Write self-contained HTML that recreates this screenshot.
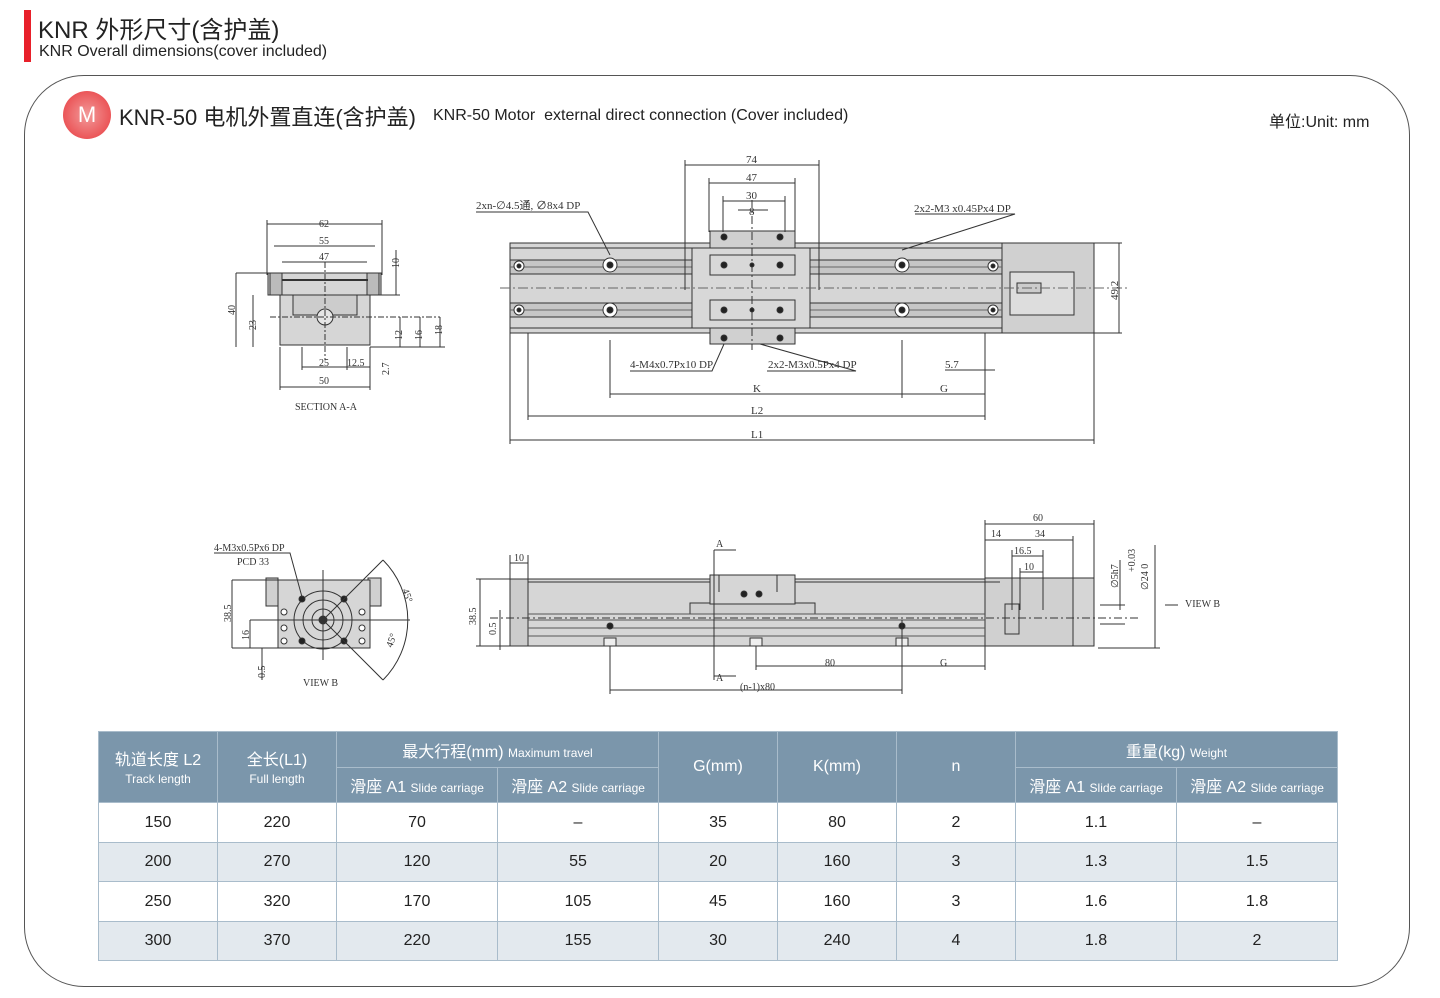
<!DOCTYPE html>
<html><head><meta charset="utf-8"><style>
body{margin:0;background:#fff;width:1440px;height:998px;overflow:hidden;position:relative;font-family:"Liberation Sans","Noto Sans CJK SC",sans-serif;}
.abs{position:absolute}
table{border-collapse:collapse;position:absolute;left:98px;top:731px;}
td{border:1.5px solid #a9bccb;text-align:center;font-size:16px;color:#222;padding:0}
tr.h td{background:#7b96ab;color:#fff}
tr.g td{background:#e3e9ee}
small{font-size:12px}
</style></head><body>
<div class="abs" style="left:24px;top:10px;width:7px;height:52px;background:#e8202a"></div>
<div class="abs" style="left:38px;top:10px;font-size:24px;color:#222;font-family:'Liberation Sans','Noto Sans CJK SC',sans-serif">KNR 外形尺寸(含护盖)</div>
<div class="abs" style="left:39px;top:43px;font-size:16px;color:#222">KNR Overall dimensions(cover included)</div>
<div class="abs" style="left:24px;top:75px;width:1384px;height:910px;border:1.5px solid #555;border-radius:60px"></div>
<div class="abs" style="left:63px;top:91px;width:48px;height:48px;border-radius:50%;background:radial-gradient(circle at 50% 50%,#f29a9a,#e8383c);color:#fff;font-size:22px;text-align:center;line-height:48px">M</div>
<div class="abs" style="left:119px;top:100px;font-size:22px;color:#222">KNR-50 电机外置直连(含护盖)</div>
<div class="abs" style="left:433px;top:107px;font-size:16px;color:#222">KNR-50 Motor&nbsp; external direct connection (Cover included)</div>
<div class="abs" style="left:1269px;top:108px;font-size:16px;color:#222">单位:Unit: mm</div>

<svg class="abs" style="left:0;top:0" width="1440" height="720" font-family="Liberation Serif,serif" font-size="11" fill="none" stroke="#333" stroke-width="1">
<!-- TOP VIEW -->
<g>
<rect x="510" y="243" width="492" height="90" fill="#d6d6d6"/>
<rect x="1002" y="243" width="92" height="90" fill="#d0d0d0"/>
<rect x="1010" y="272" width="64" height="43" fill="#ddd"/>
<rect x="1017" y="283" width="24" height="10" fill="#ccc"/>
<line x1="510" y1="248" x2="1002" y2="248"/><line x1="510" y1="328" x2="1002" y2="328"/>
<rect x="510" y="260" width="492" height="14" fill="#c6c6c6"/>
<rect x="510" y="303" width="492" height="14" fill="#c6c6c6"/>
<line x1="510" y1="267" x2="1002" y2="267" stroke="#666"/><line x1="510" y1="310" x2="1002" y2="310" stroke="#666"/>
<rect x="692" y="248" width="118" height="80" fill="#d8d8d8"/>
<rect x="710" y="231" width="85" height="17" fill="#d0d0d0"/>
<rect x="710" y="328" width="85" height="16" fill="#d0d0d0"/>
<rect x="710" y="255" width="85" height="20" fill="none"/><rect x="710" y="300" width="85" height="20" fill="none"/>
<line x1="500" y1="288" x2="1130" y2="288" stroke-dasharray="10 3 2 3" stroke="#666"/>
<line x1="752" y1="200" x2="752" y2="350" stroke-dasharray="8 3 2 3"/>
<g fill="#fff"><circle cx="519" cy="266" r="5"/><circle cx="519" cy="310" r="5"/><circle cx="993" cy="266" r="5"/><circle cx="993" cy="310" r="5"/>
<circle cx="610" cy="265" r="7"/><circle cx="610" cy="310" r="7"/><circle cx="902" cy="265" r="7"/><circle cx="902" cy="310" r="7"/></g>
<g fill="#222"><circle cx="519" cy="266" r="2"/><circle cx="519" cy="310" r="2"/><circle cx="993" cy="266" r="2"/><circle cx="993" cy="310" r="2"/>
<circle cx="610" cy="265" r="3"/><circle cx="610" cy="310" r="3"/><circle cx="902" cy="265" r="3"/><circle cx="902" cy="310" r="3"/>
<circle cx="724" cy="237" r="3"/><circle cx="780" cy="237" r="3"/><circle cx="724" cy="338" r="3"/><circle cx="780" cy="338" r="3"/>
<circle cx="724" cy="265" r="3"/><circle cx="780" cy="265" r="3"/><circle cx="752" cy="265" r="2"/><circle cx="724" cy="310" r="3"/><circle cx="780" cy="310" r="3"/><circle cx="752" cy="310" r="2"/></g>
<!-- dims -->
<path d="M685 165H819M685 160V290M819 160V290M709 183H795M709 178V232M795 178V232M723 201H785M723 196V232M785 196V232M738 210H768"/>
<path d="M510 440H1094M510 333V444M1094 333V444M528 416H985M528 333V420M985 333V420M610 394H902M610 340V398M902 340V398M902 394H985M945 370H995"/>
<path d="M1094 243H1122M1094 333H1122M1119 243V333"/>
<path d="M476 212H588L610 255M915 214H1015L902 250M630 371H712L724 344M767 371H856L760 344"/>
<g fill="#333" stroke="none" font-size="11">
<text x="746" y="163">74</text><text x="746" y="181">47</text><text x="746" y="199">30</text><text x="749" y="215">8</text>
<text x="476" y="209">2xn-∅4.5通, ∅8x4 DP</text><text x="914" y="212">2x2-M3 x0.45Px4 DP</text>
<text x="630" y="368">4-M4x0.7Px10 DP</text><text x="768" y="368">2x2-M3x0.5Px4 DP</text>
<text x="945" y="368">5.7</text><text x="753" y="392">K</text><text x="940" y="392">G</text><text x="751" y="414">L2</text><text x="751" y="438">L1</text>
<text x="1118" y="300" transform="rotate(-90 1118 300)">49.2</text></g>
</g>
<!-- SECTION A-A -->
<g>
<rect x="268" y="273" width="113" height="22" fill="#d6d6d6"/>
<path d="M280 295H370V345H280Z" fill="#d6d6d6"/>
<rect x="293" y="295" width="64" height="20" fill="#ccc"/>
<rect x="270" y="273" width="12" height="22" fill="#bbb"/><rect x="367" y="273" width="12" height="22" fill="#bbb"/>
<path d="M282 280H368" stroke-width="2"/>
<circle cx="325" cy="317" r="8" fill="#e6e6e6"/>
<line x1="325" y1="262" x2="325" y2="360" stroke-dasharray="6 2 2 2"/>
<line x1="270" y1="317" x2="440" y2="317" stroke-dasharray="6 2 2 2"/>
<path d="M267 224H382M267 220V275M382 220V275M274 246H375M282 262H367M236 273V347M236 273H268M253 295V347M280 347V390M370 347V390M280 387H370M302 347V370M347 347V370M302 367H370M440 317V347M420 317V347M400 317V347M370 347H445M396 250V295M381 295H400"/>
<g fill="#333" stroke="none" font-size="10">
<text x="319" y="227">62</text><text x="319" y="244">55</text><text x="319" y="260">47</text>
<text x="319" y="366">25</text><text x="347" y="366">12.5</text><text x="319" y="384">50</text>
<text x="235" y="315" transform="rotate(-90 235 315)">40</text><text x="256" y="330" transform="rotate(-90 256 330)">23</text>
<text x="402" y="340" transform="rotate(-90 402 340)">12</text><text x="422" y="340" transform="rotate(-90 422 340)">16</text><text x="442" y="335" transform="rotate(-90 442 335)">18</text>
<text x="399" y="268" transform="rotate(-90 399 268)">10</text><text x="389" y="375" transform="rotate(-90 389 375)">2.7</text>
<text x="295" y="410">SECTION A-A</text></g>
</g>
<!-- VIEW B -->
<g>
<rect x="266" y="578" width="12" height="28" fill="#d0d0d0"/><rect x="368" y="578" width="13" height="28" fill="#d0d0d0"/>
<rect x="278" y="580" width="92" height="68" fill="#d6d6d6"/>
<circle cx="323" cy="620" r="29"/><circle cx="323" cy="620" r="20"/><circle cx="323" cy="620" r="11"/><circle cx="323" cy="620" r="4" fill="#333"/>
<g fill="#fff"><circle cx="284" cy="612" r="3"/><circle cx="284" cy="628" r="3"/><circle cx="284" cy="641" r="3"/><circle cx="362" cy="612" r="3"/><circle cx="362" cy="628" r="3"/><circle cx="362" cy="641" r="3"/></g>
<g fill="#222"><circle cx="302" cy="599" r="3"/><circle cx="344" cy="599" r="3"/><circle cx="302" cy="641" r="3"/><circle cx="344" cy="641" r="3"/></g>
<path d="M323 570V660M250 620H410M323 620L383 560M323 620L383 680M383 560A85 85 0 0 1 383 680"/>
<path d="M214 553H290L302 597M232 580V648M232 580H278M250 620V648M262 648V680M232 648H278"/>
<g fill="#333" stroke="none" font-size="10"><text x="214" y="551">4-M3x0.5Px6 DP</text><text x="237" y="565">PCD 33</text>
<text x="303" y="686">VIEW B</text><text x="231" y="622" transform="rotate(-90 231 622)">38.5</text><text x="249" y="640" transform="rotate(-90 249 640)">16</text><text x="265" y="678" transform="rotate(-90 265 678)">0.5</text>
<text x="402" y="590" transform="rotate(70 402 590)">45°</text><text x="392" y="648" transform="rotate(-70 392 648)">45°</text></g>
</g>
<!-- SIDE VIEW -->
<g>
<rect x="510" y="579" width="475" height="67" fill="#d6d6d6"/>
<rect x="510" y="579" width="18" height="67" fill="#ccc"/>
<rect x="985" y="578" width="88" height="68" fill="#d0d0d0"/><rect x="1073" y="578" width="21" height="68" fill="#d6d6d6"/>
<rect x="1005" y="604" width="14" height="30" fill="#ccc"/>
<line x1="528" y1="582" x2="1000" y2="582"/>
<rect x="690" y="603" width="125" height="11" fill="#d0d0d0"/>
<rect x="710" y="575" width="85" height="29" fill="#d6d6d6"/>
<path d="M528 614H985M528 620H985M528 628H985M528 636H985" stroke="#555"/>
<path d="M490 618H1140" stroke-dasharray="8 3 2 3"/>
<g fill="#eee"><rect x="604" y="638" width="12" height="8"/><rect x="750" y="638" width="12" height="8"/><rect x="896" y="638" width="12" height="8"/></g>
<g fill="#222"><circle cx="744" cy="594" r="3"/><circle cx="759" cy="594" r="3"/><circle cx="610" cy="626" r="3"/><circle cx="902" cy="626" r="3"/></g>
<path d="M719 575V592M777 575V592"/>
<path d="M714 550V680M714 550H736M714 676H736"/>
<path d="M610 646V694M756 646V670M902 620V694M985 646V670M610 690H902M756 666H902M902 666H985"/>
<path d="M510 555V580M528 555V580M510 563H528M476 579H510M476 646H510M480 579V646M500 610V650"/>
<path d="M985 520V578M1094 520V578M985 524H1094M985 540H1073M1073 536V578M1012 556H1043M1012 550V610M1043 550V610M1020 572H1043M1020 568V610M1100 605H1125M1100 624H1125M1120 560V610M1155 545V648M1098 648H1160M1165 605H1178"/>
<g fill="#333" stroke="none" font-size="10">
<text x="716" y="547">A</text><text x="716" y="681">A</text><text x="825" y="666">80</text><text x="940" y="666">G</text><text x="740" y="690">(n-1)x80</text>
<text x="514" y="561">10</text><text x="1033" y="521">60</text><text x="991" y="537">14</text><text x="1035" y="537">34</text><text x="1014" y="554">16.5</text><text x="1024" y="570">10</text>
<text x="476" y="625" transform="rotate(-90 476 625)">38.5</text><text x="496" y="635" transform="rotate(-90 496 635)">0.5</text>
<text x="1118" y="588" transform="rotate(-90 1118 588)">∅5h7</text><text x="1135" y="572" transform="rotate(-90 1135 572)">+0.03</text><text x="1148" y="590" transform="rotate(-90 1148 590)">∅24 0</text>
<text x="1185" y="607">VIEW B</text></g>
</g>
</svg>

<table>
<tr class="h" style="height:36px"><td rowspan="2" style="width:118px">轨道长度 L2<br><small>Track length</small></td><td rowspan="2" style="width:118px">全长(L1)<br><small>Full length</small></td><td colspan="2">最大行程(mm) <small>Maximum travel</small></td><td rowspan="2" style="width:118px">G(mm)</td><td rowspan="2" style="width:118px">K(mm)</td><td rowspan="2" style="width:118px">n</td><td colspan="2">重量(kg) <small>Weight</small></td></tr>
<tr class="h" style="height:35px"><td style="width:160px">滑座 A1 <small>Slide carriage</small></td><td style="width:160px">滑座 A2 <small>Slide carriage</small></td><td style="width:160px">滑座 A1 <small>Slide carriage</small></td><td style="width:160px">滑座 A2 <small>Slide carriage</small></td></tr>
<tr style="height:40px"><td>150</td><td>220</td><td>70</td><td>–</td><td>35</td><td>80</td><td>2</td><td>1.1</td><td>–</td></tr>
<tr class="g" style="height:39px"><td>200</td><td>270</td><td>120</td><td>55</td><td>20</td><td>160</td><td>3</td><td>1.3</td><td>1.5</td></tr>
<tr style="height:40px"><td>250</td><td>320</td><td>170</td><td>105</td><td>45</td><td>160</td><td>3</td><td>1.6</td><td>1.8</td></tr>
<tr class="g" style="height:39px"><td>300</td><td>370</td><td>220</td><td>155</td><td>30</td><td>240</td><td>4</td><td>1.8</td><td>2</td></tr>
</table>
</body></html>
